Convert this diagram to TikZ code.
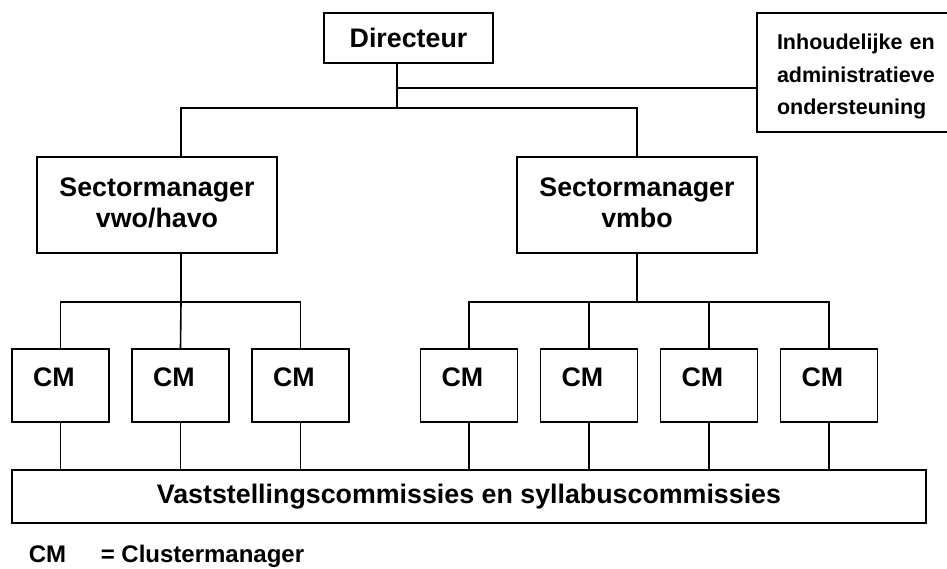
\documentclass[tikz,border=0pt]{standalone}
\usepackage{fontspec}
\setmainfont{Liberation Sans}
\begin{document}
\begin{tikzpicture}[x=1pt,y=-1pt,line width=1.6pt,
    box/.style={draw,rectangle,inner sep=0pt,align=center,font=\fontsize{26.8}{31}\selectfont\bfseries},
    cmbox/.style={box,minimum width=97pt,minimum height=73pt,text height=19pt,text depth=17pt,text width=55pt,align=left},
    smbox/.style={box,minimum width=240pt,minimum height=96pt,text width=230pt},
    keytext/.style={inner sep=0pt,anchor=base west,font=\fontsize{24}{28}\selectfont\bfseries}]
        \clip (0,0) rectangle (947,569);
        \node[box,minimum width=169pt,minimum height=50pt] (dir) at (408.5,38) {Directeur};
        \node[box,minimum width=203pt,minimum height=119pt,text width=163pt,align=left,
              font=\fontsize{21.5}{32.5}\selectfont\bfseries] (ond) at (858.5,72.5)
              {\rule{0pt}{24.5pt}Inhoudelijke en\\administratieve\\ondersteuning};
        \coordinate (d1) at (397,108);
        \coordinate (d2) at (397,88);
        \coordinate (t1) at (181,108);
        \coordinate (t2) at (637,108);

        \node[smbox] (sv) at (157,205) {Sectormanager\\vwo/havo\rule[-5pt]{0pt}{1pt}};
        \node[smbox] (sb) at (637,205) {Sectormanager\\vmbo\rule[-5pt]{0pt}{1pt}};
        \coordinate (hv) at (181,302);
        \coordinate (hb) at (637,302);

        \foreach \i/\x in {1/60.5,2/180.5,3/300.5,4/469,5/589,6/709,7/829}
            \node[cmbox] (cm\i) at (\x,385.5) {CM};

        \node[box,minimum width=914pt,minimum height=53pt] (vc) at (469,496.5)
            {Vaststellingscommissies en syllabuscommissies};

        % legenda
        \node[keytext] (cmkey) at (28,562) {CM};
        \node[keytext] (cmdef) at (100,562) {= Clustermanager};

        \draw (dir.south -| d1) -- (d1);
        \draw (d2) -- (d2 -| ond.west);
        \draw (sv.north -| t1) |- (t2) -- (sb.north);
        \draw (sv.south -| hv) -- (hv);
        \draw (cm1.north) |- (hv) -| (cm3.north);
        \draw (hv) -- (cm2.north);
        \draw (sb.south) -- (hb);
        \draw (cm4.north) |- (hb) -| (cm7.north);
        \foreach \i in {5,6}
            \draw (cm\i.north) -- (cm\i.north |- hb);
        \foreach \i in {1,...,7}
            \draw (cm\i.south) -- (cm\i.south |- vc.north);
\end{tikzpicture}
\end{document}
